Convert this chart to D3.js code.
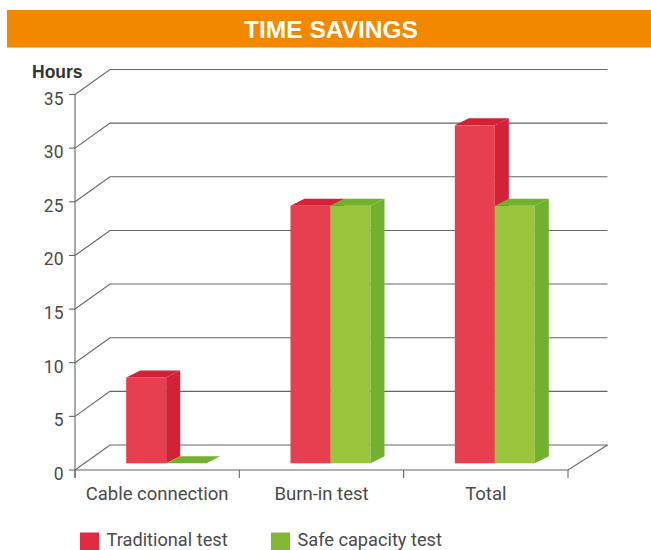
<!DOCTYPE html>
<html><head><meta charset="utf-8">
<script src="https://cdn.jsdelivr.net/npm/d3@7"></script>
<style>body{margin:0;background:#fff}svg{display:block}</style>
</head><body>
<svg id="c" width="651" height="550"></svg>
<script>
const categories = ["Cable connection", "Burn-in test", "Total"];
const seriesNames = ["Traditional test", "Safe capacity test"];
const traditional = [8, 24, 31.5];
const safeCapacity = [0, 24, 24];
const yTicks = [0, 5, 10, 15, 20, 25, 30, 35];
const title = "TIME SAVINGS";
const yTitle = "Hours";

const frontCol = ["#E63F50", "#9BC43D"];
const sideCol = ["#D12238", "#72B02F"];
const legendCol = ["#E02B43", "#84B834"];

const svg = d3.select("#c");
const x0 = 75, x1 = 568, yBase = 470, yTop = 94.5;
const wallDy = 25;
const wallDx = x => 35 + 5 * (x - x0) / (x1 - x0);
const backRight = 607.5;

const y = d3.scaleLinear().domain([0, 35]).range([yBase, yTop]);
const x = d3.scaleBand().domain(categories).range([x0, x1]).padding(0);

// title bar
svg.append("rect").attr("x", 7).attr("y", 10).attr("width", 644).attr("height", 37.5).attr("fill", "#F18800");
svg.append("text").attr("x", 331).attr("y", 38.3).attr("text-anchor", "middle")
  .attr("font-family", "Liberation Sans, Arial, sans-serif").attr("font-weight", "bold")
  .attr("font-size", 24.5).attr("fill", "#fff").text(title);

const grid = svg.append("g").attr("stroke", "#666").attr("stroke-width", 1.1).attr("fill", "none");
yTicks.forEach(t => {
  const yy = y(t);
  grid.append("path").attr("d", d3.line()([[x0, yy], [x0 + wallDx(x0), yy - wallDy], [backRight, yy - wallDy]]));
});
// floor front & right edges
grid.append("path").attr("d", d3.line()([[x0, yBase], [x1, yBase], [backRight, yBase - wallDy]]));
// y axis line
grid.append("path").attr("d", d3.line()([[x0, yTop], [x0, yBase + 8]]));
// y ticks
yTicks.forEach(t => grid.append("path").attr("d", d3.line()([[x0 - 6, y(t)], [x0, y(t)]])));
// x ticks
[x0, ...categories.map(c => x(c) + x.bandwidth())].forEach(xx =>
  grid.append("path").attr("d", d3.line()([[xx, yBase], [xx, yBase + 8]])));

// tick labels
const lblFont = "Roboto, 'Noto Sans', sans-serif";
svg.append("g").selectAll("text").data(yTicks).join("text")
  .attr("x", 63.5).attr("y", d => y(d) + 10).attr("text-anchor", "end")
  .attr("font-family", lblFont).attr("font-size", 17.5).attr("fill", "#4a4a4a").text(d => d);

svg.append("text").attr("x", 32).attr("y", 77.7).attr("font-family", "Liberation Sans, Arial, sans-serif")
  .attr("font-weight", "bold").attr("font-size", 17.5).attr("fill", "#333").text(yTitle);

svg.append("g").selectAll("text").data(categories).join("text")
  .attr("x", d => x(d) + x.bandwidth() / 2).attr("y", 500.3).attr("text-anchor", "middle")
  .attr("font-family", lblFont).attr("font-size", 18.5).attr("fill", "#4a4a4a").text(d => d);

// bars
const barPlaneDy = 6.7, barShift = 9;
const yb = d3.scaleLinear().domain([0, 35]).range([yBase - barPlaneDy, yTop - barPlaneDy]);
const barW = 40, bdx = 14, bdy = 7;
const inner = d3.scaleBand().domain([0, 1]).range([0, barW * 2]);
const series = [traditional, safeCapacity];
const bars = svg.append("g");
categories.forEach((c, i) => {
  const cx = x(c) + x.bandwidth() / 2 + barShift - barW;
  series.forEach((s, k) => {
    const bx = cx + inner(k), top = yb(s[i]), bot = yb(0);
    const g = bars.append("g");
    g.append("rect").attr("x", bx).attr("y", top).attr("width", barW).attr("height", bot - top).attr("fill", frontCol[k]);
    g.append("path").attr("fill", sideCol[k]).attr("d", d3.line()([[bx, top], [bx + barW, top], [bx + barW + bdx, top - bdy], [bx + bdx, top - bdy]]) + "Z");
    g.append("path").attr("fill", sideCol[k]).attr("d", d3.line()([[bx + barW, top], [bx + barW + bdx, top - bdy], [bx + barW + bdx, bot - bdy], [bx + barW, bot]]) + "Z");
  });
});

// legend
const leg = svg.append("g");
const legX = [80, 271];
seriesNames.forEach((n, k) => {
  leg.append("rect").attr("x", legX[k]).attr("y", 532.5).attr("width", 19).attr("height", 17.5).attr("fill", legendCol[k]);
  leg.append("text").attr("x", legX[k] + 26.5).attr("y", 545.6).attr("font-family", lblFont)
    .attr("font-size", 18.2).attr("fill", "#4a4a4a").text(n);
});
</script>
</body></html>
